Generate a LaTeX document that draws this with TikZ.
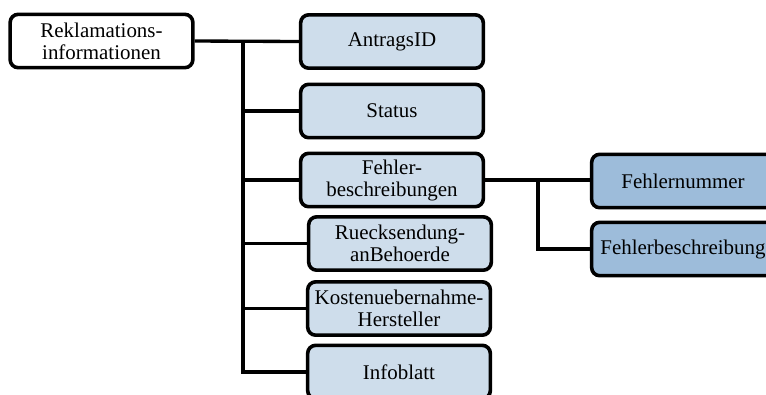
\documentclass[tikz,border=0pt]{standalone}
\usepackage{fontspec}
\setmainfont{Liberation Serif}
\definecolor{lightbox}{RGB}{206,221,235}
\definecolor{darkbox}{RGB}{157,188,218}
\begin{document}
\begin{tikzpicture}[x=0.75pt,y=-0.75pt,
  box/.style={draw=black,line width=2.7pt,rounded corners=6pt,minimum width=137pt,minimum height=40pt,
    align=center,inner sep=0pt,font=\fontsize{15.7}{16.5}\selectfont},
  rootbox/.style={box,fill=white},
  lbox/.style={box,fill=lightbox},
  dbox/.style={box,fill=darkbox},
  conn/.style={line width=2.5pt}]
\clip (0,0) rectangle (766,394);
\fill[white] (0,0) rectangle (766,394);
\node[rootbox] (root) at (101.5,41) {Reklamations-\\informationen};
\node[lbox] (antrag) at (392,41.5) {AntragsID};
\node[lbox] (status) at (392,111) {Status};
\node[lbox] (fehler) at (392,180) {Fehler-\\beschreibungen};
\node[lbox] (rueck) at (400,243.5) {Ruecksendung-\\anBehoerde};
\node[lbox] (kosten) at (399,308.5) {Kostenuebernahme-\\Hersteller};
\node[lbox] (info) at (399,372) {Infoblatt};
\node[dbox] (fnum) at (683,181) {Fehlernummer};
\node[dbox] (fbes) at (683,249) {Fehlerbeschreibung};
\coordinate (t) at (243,41);
\coordinate (f) at (538,180);
\draw[conn] (root.east) -- (antrag.west);
\draw[conn] (t) |- (status.west);
\draw[conn] (t) |- (fehler.west);
\draw[conn] (t) |- (rueck.west);
\draw[conn] (t) |- (kosten.west);
\draw[conn] (t) |- (info.west);
\draw[conn] (fehler.east) -- (fnum.west |- fehler.east);
\draw[conn] (f) |- (fbes.west);
\end{tikzpicture}
\end{document}
